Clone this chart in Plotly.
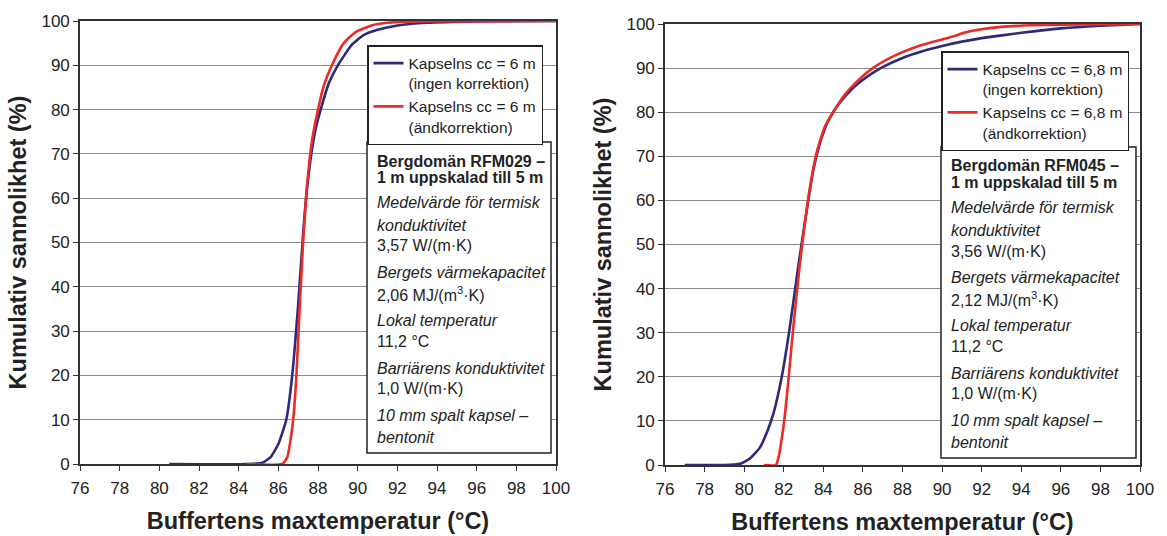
import plotly.graph_objects as go

# Cumulative distributions of the buffer maximum temperature
# Left panel: rock domain RFM029, canister spacing 6 m
left_no_corr_x = [80.5, 84.5, 85.2, 85.6, 86.0, 86.4, 86.7, 87.0, 87.3, 87.6, 87.9, 88.2, 88.55, 89.0, 89.7, 90.3, 91.0, 92.0, 93.5, 96.0, 100.0]
left_no_corr_y = [0, 0, 0.3, 1.5, 4.5, 10, 20, 36, 55, 68, 76, 81, 86, 90, 94.6, 96.8, 98, 99, 99.6, 99.9, 100]
left_end_corr_x = [84.4, 86.2, 86.45, 86.6, 86.75, 86.9, 87.05, 87.25, 87.45, 87.7, 88.0, 88.3, 88.7, 89.3, 89.9, 90.7, 91.5, 93.0, 100.0]
left_end_corr_y = [0, 0, 1.5, 5, 10, 19, 33, 50, 63, 73, 80, 85.5, 90, 95, 97.5, 99, 99.6, 99.9, 100]

# Right panel: rock domain RFM045, canister spacing 6.8 m
right_no_corr_x = [77.0, 79.0, 79.8, 80.3, 80.8, 81.2, 81.5, 81.9, 82.3, 82.7, 83.1, 83.5, 83.9, 84.3, 84.8, 85.5, 86.2, 86.9, 88.0, 89.0, 90.0, 91.0, 92.0, 94.0, 96.0, 98.0, 100.0]
right_no_corr_y = [0, 0, 0.3, 1.5, 4, 8, 12, 20, 31, 44, 56, 67, 74, 78.5, 82, 85.5, 88, 90, 92.3, 93.8, 95, 96, 96.8, 98, 99, 99.6, 100]
right_end_corr_x = [81.0, 81.6, 81.75, 81.9, 82.05, 82.25, 82.5, 82.8, 83.1, 83.4, 83.7, 84.1, 84.5, 85.0, 85.7, 86.5, 87.5, 88.5, 89.5, 90.5, 91.2, 92.0, 93.0, 94.5, 96.0, 100.0]
right_end_corr_y = [0, 0, 2, 6, 11, 20, 32, 45, 56, 65, 71.5, 77, 80, 83.5, 87, 90, 92.6, 94.5, 95.9, 97.1, 98.1, 98.8, 99.35, 99.7, 99.85, 100]

x_ticks = list(range(76, 101, 2))
y_ticks = list(range(0, 101, 10))

left_legend_names = ["Kapselns cc = 6 m<br>(ingen korrektion)", "Kapselns cc = 6 m<br>(ändkorrektion)"]
right_legend_names = ["Kapselns cc = 6,8 m<br>(ingen korrektion)", "Kapselns cc = 6,8 m<br>(ändkorrektion)"]

info_left = ["<b>Bergdomän RFM029 –</b>", "<b>1 m uppskalad till 5 m</b>",
             "<i>Medelvärde för termisk</i>", "<i>konduktivitet</i>", "3,57 W/(m·K)",
             "<i>Bergets värmekapacitet</i>", "2,06 MJ/(m<sup>3</sup>·K)",
             "<i>Lokal temperatur</i>", "11,2 °C",
             "<i>Barriärens konduktivitet</i>", "1,0 W/(m·K)",
             "<i>10 mm spalt kapsel –</i>", "<i>bentonit</i>"]
info_right = ["<b>Bergdomän RFM045 –</b>", "<b>1 m uppskalad till 5 m</b>",
              "<i>Medelvärde för termisk</i>", "<i>konduktivitet</i>", "3,56 W/(m·K)",
              "<i>Bergets värmekapacitet</i>", "2,12 MJ/(m<sup>3</sup>·K)",
              "<i>Lokal temperatur</i>", "11,2 °C",
              "<i>Barriärens konduktivitet</i>", "1,0 W/(m·K)",
              "<i>10 mm spalt kapsel –</i>", "<i>bentonit</i>"]

x_title = "Buffertens maxtemperatur (°C)"
y_title = "Kumulativ sannolikhet (%)"

BLUE = "#2d2a7a"
RED = "#ee2a26"
FONT = "Liberation Sans, Arial, sans-serif"
TXT = "#222222"

W, H = 1167, 536


def fx(px):
    return px / W


def fy(py):
    return 1 - py / H


fig = go.Figure()

curve_line = dict(width=2.6, shape="spline", smoothing=0.5)
fig.add_trace(go.Scatter(x=left_no_corr_x, y=left_no_corr_y, mode="lines", name=left_legend_names[0],
                         line=dict(curve_line, color=BLUE), xaxis="x", yaxis="y", legend="legend"))
fig.add_trace(go.Scatter(x=left_end_corr_x, y=left_end_corr_y, mode="lines", name=left_legend_names[1],
                         line=dict(curve_line, color=RED), xaxis="x", yaxis="y", legend="legend"))
fig.add_trace(go.Scatter(x=right_no_corr_x, y=right_no_corr_y, mode="lines", name=right_legend_names[0],
                         line=dict(curve_line, color=BLUE), xaxis="x2", yaxis="y2", legend="legend2"))
fig.add_trace(go.Scatter(x=right_end_corr_x, y=right_end_corr_y, mode="lines", name=right_legend_names[1],
                         line=dict(curve_line, color=RED), xaxis="x2", yaxis="y2", legend="legend2"))

axis_common = dict(showline=True, linecolor="#333333", linewidth=1.6, mirror=True,
                   ticks="outside", ticklen=5, tickwidth=1.2, tickcolor="#333333",
                   tickfont=dict(family=FONT, size=17, color=TXT), zeroline=False,
                   automargin=False)

xaxis_common = dict(axis_common, range=[76, 100], tickvals=x_ticks, showgrid=False, ticklabelstandoff=3,
                    title=dict(text=f"<b>{x_title}</b>", font=dict(family=FONT, size=23.5, color=TXT), standoff=15))
yaxis_common = dict(axis_common, range=[0, 100], tickvals=y_ticks, showgrid=True,
                    gridcolor="#8a8a8a", gridwidth=1.4,
                    title=dict(text=f"<b>{y_title}</b>", font=dict(family=FONT, size=23.5, color=TXT), standoff=8))

legend_common = dict(bgcolor="white", bordercolor="#222222", borderwidth=1.5,
                     font=dict(family=FONT, size=15.5, color=TXT), valign="top",
                     xanchor="left", yanchor="top", tracegroupgap=0, itemwidth=30)

fig.update_layout(
    width=W, height=H,
    margin=dict(l=0, r=0, t=0, b=0),
    paper_bgcolor="white", plot_bgcolor="white",
    showlegend=True,
    xaxis=dict(xaxis_common, domain=[fx(80), fx(556)], anchor="y"),
    yaxis=dict(yaxis_common, domain=[fy(464), fy(21)], anchor="x"),
    xaxis2=dict(xaxis_common, domain=[fx(665), fx(1140)], anchor="y2"),
    yaxis2=dict(yaxis_common, domain=[fy(465), fy(24)], anchor="x2"),
    legend=dict(legend_common, x=fx(367), y=fy(45)),
    legend2=dict(legend_common, x=fx(941), y=fy(51)),
)

# Parameter boxes
line_offsets = [19, 35.5, 60.5, 83, 104, 130.5, 151.5, 178, 199, 226.5, 246.5, 273, 295]
boxes = [(367, 142, 551, 453, info_left), (941, 147, 1136, 458, info_right)]
for x0, y0, x1, y1, lines in boxes:
    fig.add_shape(type="rect", xref="paper", yref="paper",
                  x0=fx(x0), x1=fx(x1), y0=fy(y1), y1=fy(y0),
                  line=dict(color="#222222", width=1.5), fillcolor="white", layer="above")
    for off, txt in zip(line_offsets, lines):
        fig.add_annotation(xref="paper", yref="paper", x=fx(x0 + 8), y=fy(y0 + off),
                           xanchor="left", yanchor="middle", showarrow=False, text=txt,
                           font=dict(family=FONT, size=16, color=TXT))

fig.write_html("out.html")
